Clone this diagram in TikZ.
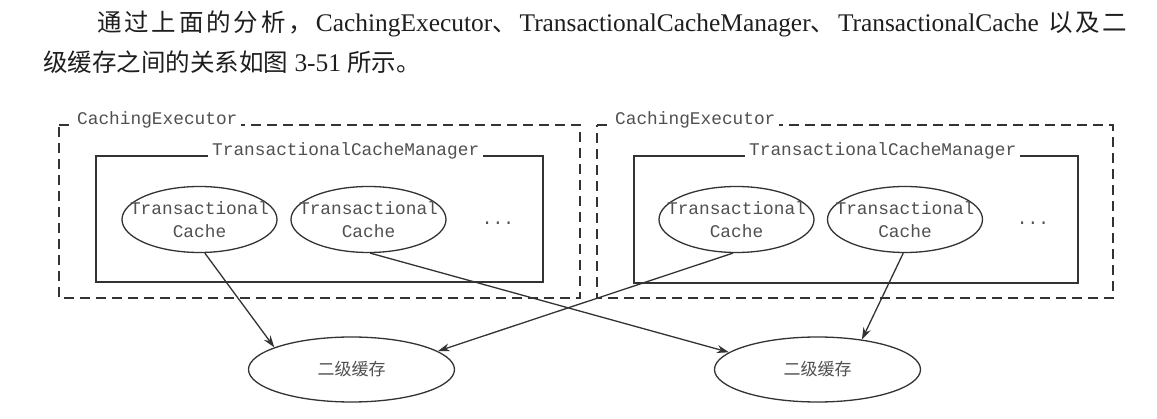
\documentclass[tikz,border=0pt]{standalone}
\usepackage{fontspec}
\setmainfont{Liberation Serif}
\setmonofont{Liberation Mono}
\newfontfamily\cjk{Noto Sans CJK SC}
\usetikzlibrary{shapes.geometric,arrows.meta}
\definecolor{ink}{HTML}{1E1E1E}
\definecolor{linec}{HTML}{333333}
\definecolor{labc}{HTML}{505050}
\newcommand\gl{\hskip 0pt plus 1pt}
\newcommand\cj{\cjk\fontsize{24.5}{30}\selectfont}
\newcommand\lt{\rmfamily\fontsize{25.4}{30}\selectfont}
\begin{document}
\begin{tikzpicture}[x=1pt,y=-1pt,
  outerbox/.style={draw=linec, line width=1.4pt, dash pattern=on 10pt off 6pt},
  innerbox/.style={draw=linec, line width=1.4pt},
  boxlabel/.style={fill=white, font=\ttfamily\fontsize{17.8}{20}\selectfont, text=labc, inner xsep=4pt, inner ysep=0pt, anchor=base west},
  tcache/.style={ellipse, draw=linec, line width=1.3pt, minimum width=155pt, minimum height=66pt, inner xsep=-40pt, inner ysep=-15pt, align=center, font=\ttfamily\fontsize{17.8}{23}\selectfont, text=labc},
  l2cache/.style={ellipse, draw=linec, line width=1.3pt, minimum width=206pt, minimum height=65pt, inner sep=0pt, font=\cjk\fontsize{17}{20}\selectfont, text=labc},
  dots/.style={font=\ttfamily\fontsize{17.8}{20}\selectfont, text=labc, anchor=base, inner sep=0pt},
  link/.style={draw=linec, line width=1.3pt, -{Stealth[length=12pt,width=8pt]}},
  para/.style={anchor=base west, inner sep=0pt, text=ink, font=\fontsize{24.5}{30}\selectfont}
]
\useasboundingbox[fill=white] (0,0) rectangle (1157,419);

% paragraph text
\node[para] (line1) at (97,32) {\makebox[1030pt][s]{\cj 通\gl 过\gl 上\gl 面\gl 的\gl 分\gl 析\gl ，\gl\lt CachingExecutor\cj 、\gl\lt TransactionalCacheManager\cj 、\gl\lt TransactionalCache\hskip 0.25em plus 1pt\cj 以\gl 及\gl 二}};
\node[para] (line2) at (43,72) {\cj 级缓存之间的关系如图\lt\ 3-51\ \cj 所示。};

% outer dashed boxes
\draw[outerbox] (59,125) -- (580,125) -- (580,298) -- (59,298) -- cycle;
\draw[outerbox] (597,125) -- (1113,125) -- (1113,298) -- (597,298) -- cycle;
\node[boxlabel] (ce1) at (73,125) {CachingExecutor};
\node[boxlabel] (ce2) at (611,125) {CachingExecutor};

% inner boxes
\draw[innerbox] (96,156) rectangle (543,282);
\draw[innerbox] (634,156) rectangle (1078,283);
\node[boxlabel] (tcm1) at (208,156) {TransactionalCacheManager};
\node[boxlabel] (tcm2) at (745,156) {TransactionalCacheManager};

% transactional caches
\node[tcache] (e1) at (199.5,219.5) {Transactional\\Cache};
\node[tcache] (e2) at (368.5,219.5) {Transactional\\Cache};
\node[tcache] (e3) at (736.5,219.5) {Transactional\\Cache};
\node[tcache] (e4) at (905,219.5) {Transactional\\Cache};
\node[dots] (d1) at (498,225) {...};
\node[dots] (d2) at (1033,225) {...};

% second-level caches
\node[l2cache] (b1) at (351.5,369.5) {二级缓存};
\node[l2cache] (b2) at (817.5,369.5) {二级缓存};

% links
\draw[link] (e1.-81) -- (b1.164);
\draw[link] (e2.-87) -- (b2.169);
\draw[link] (e3.-96) -- (b1.12);
\draw[link] (e4.-93) -- (b2.34);
\end{tikzpicture}
\end{document}
